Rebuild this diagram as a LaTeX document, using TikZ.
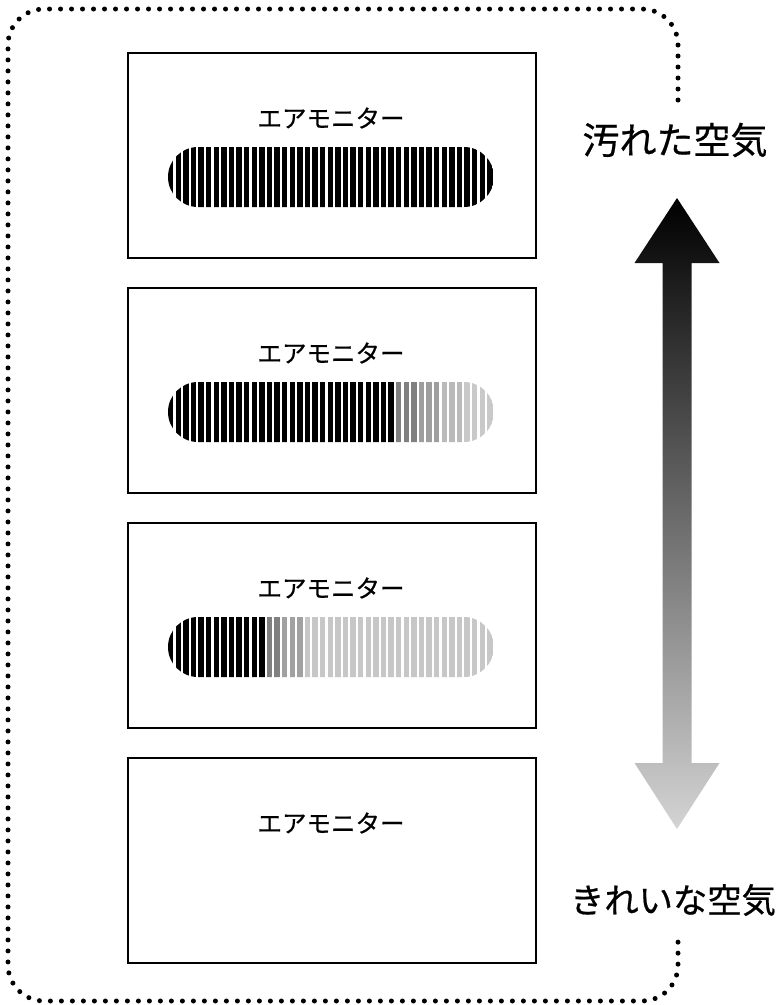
\documentclass[tikz,border=0pt]{standalone}
\usepackage{fontspec}
\newfontfamily\jp{Noto Sans CJK JP}[FakeBold=0.6]
\begin{document}
\begin{tikzpicture}[x=1pt,y=-1pt,
  monbox/.style={draw=black,line width=2.4pt,fill=white},
  montitle/.style={font=\jp\fontsize{24.5}{24.5}\selectfont,inner sep=0pt,anchor=center},
  airlabel/.style={font=\jp\fontsize{35}{35}\selectfont,inner sep=0pt,anchor=center},
  dotborder/.style={line width=5pt,line cap=round,dash pattern=on 0pt off 11pt,rounded corners=36pt}]
\useasboundingbox (0,0) rectangle (779,1005);

% dotted border
\coordinate (bstart) at (678,100);
\coordinate (bend) at (678,942);
\draw[dotborder] (bstart) -- (678,9) -- (8,9) -- (8,1001) -- (678,1001) -- (bend);

% boxes
\foreach \k/\t in {1/52,2/287,3/522,4/757}{
  \node[monbox,minimum width=408pt,minimum height=205pt,inner sep=0pt,anchor=north west] (box\k) at (127,\t) {};
  \node[montitle] (title\k) at (331,\t+66) {エアモニター};
}

% bars
\newcommand{\stripebar}[2]{% #1 = top of box, #2 = color macro name
  \begin{scope}
    \clip[rounded corners=30pt] (168,#1+95) rectangle (494,#1+155);
    \foreach \i in {0,...,42}{
      \pgfmathsetmacro{\xx}{168+7.6*\i}
      #2
      \fill[fill=barcol] (\xx,#1+94) rectangle ++(5.3,62);
    }
  \end{scope}}
\newcommand{\colA}{\colorlet{barcol}{black}}
\newcommand{\colB}{%
  \ifnum\i<30 \colorlet{barcol}{black}\else
  \ifnum\i<33 \colorlet{barcol}{black!50}\else
  \ifnum\i<36 \colorlet{barcol}{black!38}\else
  \ifnum\i<39 \colorlet{barcol}{black!27}\else
  \colorlet{barcol}{black!21}\fi\fi\fi\fi}
\newcommand{\colC}{%
  \ifnum\i<13 \colorlet{barcol}{black}\else
  \ifnum\i<15 \colorlet{barcol}{black!50}\else
  \ifnum\i<18 \colorlet{barcol}{black!37}\else
  \colorlet{barcol}{black!22}\fi\fi\fi}
\stripebar{52}{\colA}
\stripebar{287}{\colB}
\stripebar{522}{\colC}

% gradient double arrow
\shade[top color=black,bottom color=black!17]
  (677,198) -- (719.5,263) -- (691.5,263) -- (691.5,763) -- (719.5,763)
  -- (677,829) -- (634.5,763) -- (662.5,763) -- (662.5,263) -- (634.5,263) -- cycle;

% labels
\node[airlabel,font=\jp\fontsize{37}{37}\selectfont] (dirty) at (675,140) {汚れた空気};
\node[airlabel,font=\jp\fontsize{34.3}{34.3}\selectfont] (clean) at (673,900) {きれいな空気};
\end{tikzpicture}
\end{document}
